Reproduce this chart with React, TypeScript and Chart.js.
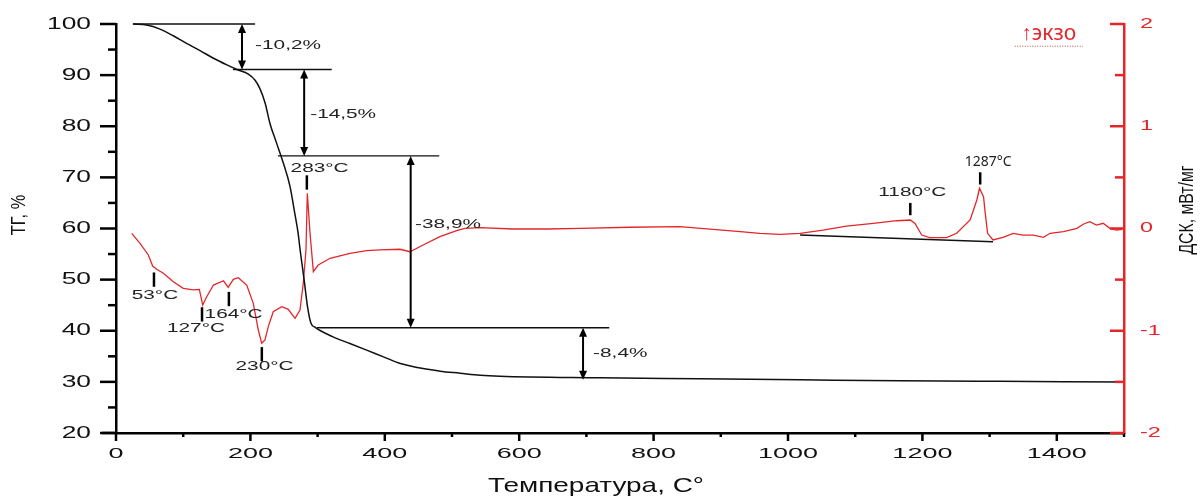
import { useEffect, useRef } from "react";
import { Chart, registerables } from "chart.js";

Chart.register(...registerables);

// ---- TG curve (mass, %) ----
const tgTemp = [25.8, 45.6, 65.5, 85.3, 105, 125, 145, 165, 180, 197, 207, 214, 222, 229, 239, 249, 259, 266, 271, 274, 280, 285, 290, 296, 323, 348, 373, 398, 423, 482, 512, 542, 571, 720, 869, 1018, 1167, 1315, 1497];
const tgMass = [100, 99.8, 99.0, 97.7, 96.2, 94.8, 93.3, 92.0, 91.1, 90.2, 89.0, 87.4, 84.5, 80.6, 76.7, 72.8, 68.2, 63.0, 59.1, 55.8, 49.9, 44.7, 41.5, 40.7, 38.8, 37.5, 36.2, 34.9, 33.6, 32.1, 31.7, 31.3, 31.1, 30.8, 30.6, 30.4, 30.2, 30.1, 30.0];

// ---- DSC curve (mW/mg) ----
const dscTemp = [23.4, 35.7, 48.1, 54.6, 60.6, 70.4, 85.3, 100.2, 115, 124, 129, 135, 145, 160, 167, 174.6, 182, 194.5, 204.3, 211.8, 216.8, 221.7, 226.6, 234, 246.6, 256.4, 266.4, 273.8, 278.7, 282.7, 284.7, 288.7, 293.7, 301, 318.5, 348.2, 373, 392.9, 422.6, 437.5, 457, 482, 507, 519, 542, 591, 641, 690.5, 765, 839, 929, 958, 988, 1018, 1052, 1087, 1127, 1162, 1182, 1189, 1199, 1211, 1236, 1251, 1271, 1281, 1285, 1291, 1293, 1297, 1305, 1320, 1335, 1350, 1365, 1380, 1390, 1410, 1430, 1440, 1449, 1459, 1469, 1479, 1489, 1497];
const dscSignal = [-0.047, -0.145, -0.259, -0.367, -0.399, -0.438, -0.52, -0.585, -0.601, -0.595, -0.748, -0.667, -0.553, -0.511, -0.575, -0.497, -0.481, -0.553, -0.732, -0.993, -1.123, -1.09, -0.96, -0.814, -0.765, -0.79, -0.878, -0.797, -0.536, -0.21, 0.344, -0.044, -0.422, -0.357, -0.291, -0.243, -0.217, -0.21, -0.203, -0.227, -0.161, -0.08, -0.021, 0.002, 0.008, -0.005, -0.005, 0.002, 0.012, 0.018, -0.031, -0.047, -0.057, -0.047, -0.015, 0.024, 0.05, 0.076, 0.083, 0.05, -0.064, -0.09, -0.09, -0.047, 0.083, 0.279, 0.393, 0.311, 0.18, -0.047, -0.112, -0.086, -0.047, -0.064, -0.064, -0.086, -0.047, -0.031, 0.002, 0.044, 0.067, 0.034, 0.051, 0.002, -0.015, -0.008];

// ---- DSC baseline under the high-temperature peaks ----
const dscBaseTemp = [1018, 1305];
const dscBaseSignal = [-0.064, -0.13];

// ---- TG step levels (horizontal lines) ----
const stepLevel = [100, 91.1, 74.2, 40.6];
const stepFrom = [25, 174, 241, 299];
const stepTo = [207, 321, 481, 734];

// ---- mass-loss arrows and labels ----
const arrowTemp = [187.5, 280, 438.5, 695];
const arrowTop = [100, 91.1, 74.2, 40.6];
const arrowBottom = [91.1, 74.2, 40.6, 30.4];
const lossText = ["-10,2%", "-14,5%", "-38,9%", "-8,4%"];
const lossTemp = [207, 289, 445, 710];
const lossMass = [95.9, 82.4, 60.7, 35.6];

// ---- DSC peak markers ----
const peakText = ["53°C", "127°C", "164°C", "230°C", "283°C", "1180°C", "1287°C"];
const peakTemp = [56.5, 128, 168, 217, 284, 1182, 1286];
const markTop = [-0.43, -0.77, -0.62, -1.16, 0.52, 0.25, 0.55];
const markBottom = [-0.57, -0.91, -0.76, -1.3, 0.38, 0.13, 0.43];
const peakLabelTemp = [58, 119, 175, 221, 303, 1185, 1298];
const peakLabelSignal = [-0.65, -0.98, -0.84, -1.35, 0.59, 0.35, 0.65];

// ---- tick labels ----
const xTickLabels = [0, 200, 400, 600, 800, 1000, 1200, 1400];
const tgTickLabels = [20, 30, 40, 50, 60, 70, 80, 90, 100];
const dscTickLabels = [-2, -1, 0, 1, 2];

const RED = "#e4262b";
const FONT = "'Liberation Sans', Arial, sans-serif";

function stretchText(ctx: CanvasRenderingContext2D, text: string, px: number, py: number, font: string, sx: number, align: CanvasTextAlign, color: string) {
  ctx.save();
  ctx.translate(px, py);
  ctx.scale(sx, 1);
  ctx.font = font;
  ctx.fillStyle = color;
  ctx.textAlign = align;
  ctx.textBaseline = "middle";
  ctx.fillText(text, 0, 0);
  ctx.restore();
}

function rotatedText(ctx: CanvasRenderingContext2D, text: string, px: number, py: number, font: string, sAlong: number, color: string) {
  ctx.save();
  ctx.translate(px, py);
  ctx.rotate(-Math.PI / 2);
  ctx.scale(sAlong, 1);
  ctx.font = font;
  ctx.fillStyle = color;
  ctx.textAlign = "center";
  ctx.textBaseline = "middle";
  ctx.fillText(text, 0, 0);
  ctx.restore();
}

const decorPlugin = {
  id: "thermoDecor",
  afterDatasetsDraw(chart: any) {
    const ctx: CanvasRenderingContext2D = chart.ctx;
    const { x, y, y1 } = chart.scales;
    const area = chart.chartArea;
    ctx.save();

    // x axis extension to the left & ticks
    ctx.strokeStyle = "#000";
    ctx.lineWidth = 2.5;
    ctx.beginPath();
    ctx.moveTo(area.left - 14, area.bottom);
    ctx.lineTo(area.left, area.bottom);
    ctx.stroke();
    for (let v = 0; v <= 1500; v += 100) {
      const px = x.getPixelForValue(v);
      const len = v % 200 === 0 ? 8 : 4;
      ctx.beginPath();
      ctx.moveTo(px, area.bottom);
      ctx.lineTo(px, area.bottom + len);
      ctx.stroke();
    }
    xTickLabels.forEach((v) => {
      stretchText(ctx, String(v), x.getPixelForValue(v), area.bottom + 20.5, `15px ${FONT}`, 1.8, "center", "#111");
    });

    // left axis ticks
    for (let v = 20; v <= 100; v += 5) {
      const py = y.getPixelForValue(v);
      const len = v % 10 === 0 ? 16 : 8;
      ctx.beginPath();
      ctx.moveTo(area.left - len, py);
      ctx.lineTo(area.left, py);
      ctx.stroke();
    }
    tgTickLabels.forEach((v) => {
      stretchText(ctx, String(v), area.left - 25, y.getPixelForValue(v), `17px ${FONT}`, 1.55, "right", "#111");
    });

    // right axis ticks (inward)
    ctx.strokeStyle = RED;
    for (let k = -4; k <= 4; k++) {
      const v = k / 2;
      const py = y1.getPixelForValue(v);
      const len = k % 2 === 0 ? 14 : 9;
      ctx.beginPath();
      ctx.moveTo(area.right - len, py);
      ctx.lineTo(area.right, py);
      ctx.stroke();
    }
    dscTickLabels.forEach((v) => {
      stretchText(ctx, String(v), area.right + 16, y1.getPixelForValue(v), `14px ${FONT}`, 1.67, "left", RED);
    });

    // axis titles
    rotatedText(ctx, "ТГ, %", 19, 215, `21px ${FONT}`, 0.78, "#111");
    rotatedText(ctx, "ДСК, мВт/мг", 1187, 210, `20px ${FONT}`, 0.79, "#111");
    stretchText(ctx, "Температура, С°", 596, 486, `21px ${FONT}`, 1.33, "center", "#111");

    // mass-loss arrows
    ctx.strokeStyle = "#000";
    ctx.fillStyle = "#000";
    ctx.lineWidth = 2;
    arrowTemp.forEach((t, i) => {
      const px = x.getPixelForValue(t);
      const top = y.getPixelForValue(arrowTop[i]);
      const bot = y.getPixelForValue(arrowBottom[i]);
      ctx.beginPath();
      ctx.moveTo(px, top + 6);
      ctx.lineTo(px, bot - 6);
      ctx.stroke();
      ctx.beginPath();
      ctx.moveTo(px, top);
      ctx.lineTo(px - 4, top + 9);
      ctx.lineTo(px + 4, top + 9);
      ctx.closePath();
      ctx.fill();
      ctx.beginPath();
      ctx.moveTo(px, bot);
      ctx.lineTo(px - 4, bot - 9);
      ctx.lineTo(px + 4, bot - 9);
      ctx.closePath();
      ctx.fill();
    });
    lossText.forEach((s, i) => {
      stretchText(ctx, s, x.getPixelForValue(lossTemp[i]), y.getPixelForValue(lossMass[i]), `13px ${FONT}`, 1.6, "left", "#222");
    });

    // DSC peak markers
    ctx.lineWidth = 2.5;
    peakTemp.forEach((t, i) => {
      const px = x.getPixelForValue(t);
      ctx.beginPath();
      ctx.moveTo(px, y1.getPixelForValue(markTop[i]));
      ctx.lineTo(px, y1.getPixelForValue(markBottom[i]));
      ctx.stroke();
    });
    peakText.forEach((s, i) => {
      const px = x.getPixelForValue(peakLabelTemp[i]);
      const py = y1.getPixelForValue(peakLabelSignal[i]);
      if (i === peakText.length - 1) {
        stretchText(ctx, s, px, py, `14px 'Noto Sans', sans-serif`, 1.0, "center", "#222");
      } else {
        stretchText(ctx, s, px, py, `13px ${FONT}`, 1.6, "center", "#222");
      }
    });

    // exo marker
    const ex = x.getPixelForValue(1388);
    const ey = y1.getPixelForValue(1.9);
    stretchText(ctx, "↑экзо", ex, ey, `21px 'Noto Sans', sans-serif`, 1.0, "center", RED);
    ctx.strokeStyle = "#b0503a";
    ctx.lineWidth = 1;
    ctx.setLineDash([1, 1.5]);
    ctx.beginPath();
    ctx.moveTo(ex - 34, ey + 12);
    ctx.lineTo(ex + 34, ey + 12);
    ctx.stroke();
    ctx.setLineDash([]);

    ctx.restore();
  },
};

export default function App() {
  const canvasRef = useRef<HTMLCanvasElement | null>(null);

  useEffect(() => {
    const canvas = canvasRef.current;
    if (!canvas) return;

    const stepDatasets = stepLevel.map((lvl, i) => ({
      data: [
        { x: stepFrom[i], y: lvl },
        { x: stepTo[i], y: lvl },
      ],
      yAxisID: "y",
      borderColor: "#111",
      borderWidth: 1.4,
      pointRadius: 0,
      showLine: true,
      clip: false as any,
    }));

    const chart = new Chart(canvas, {
      type: "scatter",
      data: {
        datasets: [
          {
            data: tgTemp.map((t, i) => ({ x: t, y: tgMass[i] })),
            yAxisID: "y",
            borderColor: "#111",
            borderWidth: 1.5,
            pointRadius: 0,
            showLine: true,
            cubicInterpolationMode: "monotone",
            clip: false as any,
          },
          {
            data: dscTemp.map((t, i) => ({ x: t, y: dscSignal[i] })),
            yAxisID: "y1",
            borderColor: RED,
            borderWidth: 1.3,
            pointRadius: 0,
            showLine: true,
            tension: 0,
          },
          {
            data: dscBaseTemp.map((t, i) => ({ x: t, y: dscBaseSignal[i] })),
            yAxisID: "y1",
            borderColor: "#111",
            borderWidth: 1.4,
            pointRadius: 0,
            showLine: true,
          },
          ...stepDatasets,
        ] as any,
      },
      options: {
        responsive: false,
        maintainAspectRatio: false,
        animation: false,
        devicePixelRatio: 1,
        layout: { padding: { top: 24, left: 0, right: 0, bottom: 0 } },
        plugins: {
          legend: { display: false },
          tooltip: { enabled: false },
        },
        scales: {
          x: {
            type: "linear",
            min: 0,
            max: 1500,
            ticks: { display: false, stepSize: 100 },
            grid: { display: false, drawTicks: false },
            border: { display: true, color: "#000", width: 2.5 },
            afterFit: (s: any) => {
              s.height = 63;
            },
          },
          y: {
            type: "linear",
            position: "left",
            min: 20,
            max: 100,
            ticks: { display: false, stepSize: 5 },
            grid: { display: false, drawTicks: false },
            border: { display: true, color: "#000", width: 2.5 },
            afterFit: (s: any) => {
              s.width = 116;
            },
          },
          y1: {
            type: "linear",
            position: "right",
            min: -2,
            max: 2,
            ticks: { display: false, stepSize: 0.5 },
            grid: { display: false, drawTicks: false },
            border: { display: true, color: RED, width: 2.5 },
            afterFit: (s: any) => {
              s.width = 76;
            },
          },
        },
      } as any,
      plugins: [decorPlugin],
    });

    return () => {
      chart.destroy();
    };
  }, []);

  return (
    <div style={{ position: "fixed", left: 0, top: 0, width: 1200, height: 496, background: "#fff" }}>
      <canvas ref={canvasRef} width={1200} height={496} style={{ width: 1200, height: 496, display: "block" }} />
    </div>
  );
}
